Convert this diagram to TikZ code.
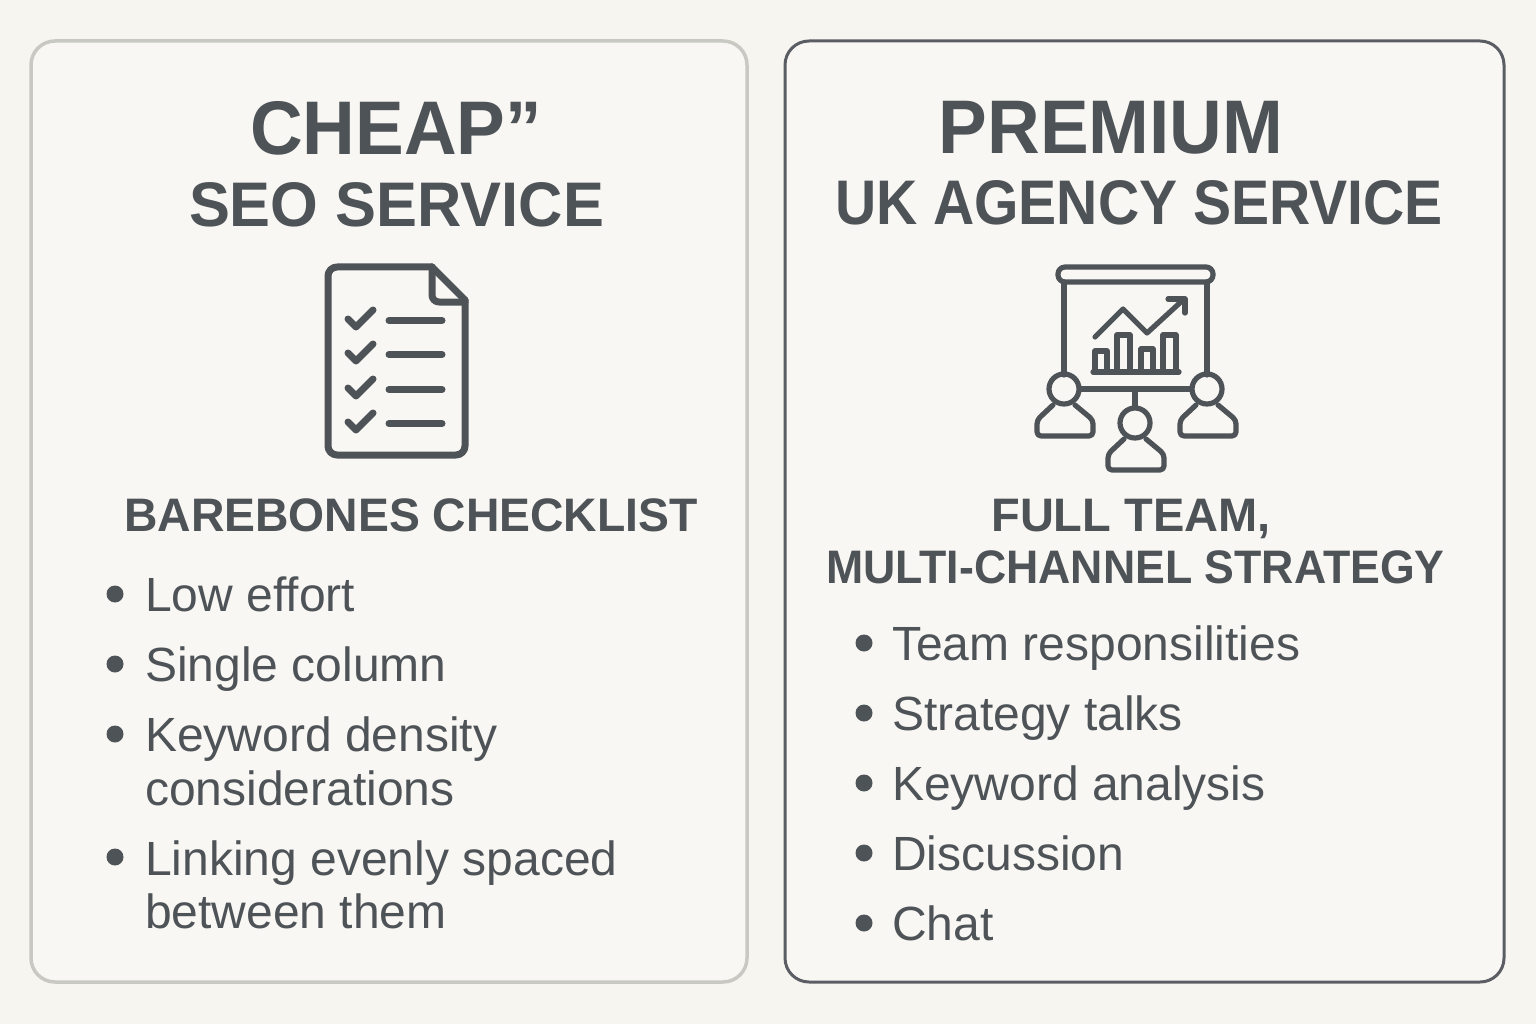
\documentclass[tikz,border=0pt]{standalone}
\usepackage{fontspec}
\setmainfont{Liberation Sans}
\definecolor{page bg}{HTML}{F7F5F0}
\definecolor{panel bg}{HTML}{F9F7F3}
\definecolor{ink}{HTML}{4E5358}
\definecolor{edge light}{HTML}{C9C9C4}
\definecolor{edge dark}{HTML}{5A5E64}
\tikzset{
  panel/.style={fill=panel bg, rounded corners=24pt},
  icon/.style={draw=ink, line width=7pt, line join=round, line cap=round},
  thinicon/.style={draw=ink, line width=5.2pt, line join=round, line cap=round}
  }
\tikzstyle{title} = [text=ink, anchor=base, inner sep=0pt, font=\fontsize{76}{76}\selectfont\bfseries]
\tikzstyle{subtitle} = [text=ink, anchor=base, inner sep=0pt, font=\fontsize{63}{63}\selectfont\bfseries]
\tikzstyle{heading} = [text=ink, anchor=base, inner sep=0pt, font=\fontsize{47}{47}\selectfont\bfseries]
\tikzstyle{item} = [text=ink, anchor=base west, inner sep=0pt, font=\fontsize{48}{48}\selectfont]
\tikzstyle{dot} = [circle, fill=ink, minimum size=17pt, inner sep=0pt]
\tikzstyle{head} = [circle, draw=ink, line width=5.2pt, minimum size=30pt, inner sep=0pt]
\begin{document}
\begin{tikzpicture}[x=1pt,y=-1pt]
    \useasboundingbox[fill=page bg] (0,0) rectangle (1536,1024);

    % The two panels
    \path[panel, draw=edge light, line width=3.5pt] (31,41) rectangle (747,982);
    \path[panel, draw=edge dark, line width=3pt] (785,41) rectangle (1504,982);

    % The titles
    \node[title] (cheap) at (396,155) {\scalebox{0.96}[1]{CHEAP”}};
    \node[subtitle] (seo) at (396.5,227) {\scalebox{0.974}[1]{SEO SERVICE}};
    \node[title] (premium) at (1111,154) {\scalebox{0.96}[1]{PREMIUM}};
    \node[subtitle] (agency) at (1139,225) {\scalebox{0.906}[1]{UK AGENCY SERVICE}};

    % The headings
    \foreach \pos/\name/\squeeze/\txt in {{(411,531)/bare/0.985/BAREBONES CHECKLIST}, {(1131,531)/team/1/FULL TEAM,}, {(1135.5,583)/multi/0.95/MULTI-CHANNEL STRATEGY}} {
      \node[heading] (\name) at \pos {\scalebox{\squeeze}[1]{\txt}};
    }

    % The left list
    \foreach \y/\name/\txt in {611/low/Low effort, 681/single/Single column, 751/density/Keyword density, 805/consider/considerations, 875/linking/Linking evenly spaced, 928/between/between them} {
      \node[item] (\name) at (145,\y) {\txt};
    }
    \foreach \y/\name in {594/a, 664/b, 734/c, 857/d} {
      \node[dot] (\name) at (115,\y) {};
    }

    % The right list
    \foreach \y/\name/\txt in {660/resp/Team responsilities, 730/talks/Strategy talks, 800/analysis/Keyword analysis, 870/discuss/Discussion, 940/chat/Chat} {
      \node[item] (\name) at (892,\y) {\txt};
    }
    \foreach \y/\name in {643/e, 713/f, 783/g, 853/h, 923/i} {
      \node[dot] (\name) at (864,\y) {};
    }

    % The checklist icon
    \draw[icon, rounded corners=9pt] (432,267) -- (328,267) -- (328,455) -- (465,455) -- (465,300);
    \draw[icon] (432,267) -- (465,300);
    \draw[icon, rounded corners=7pt] (432,267) -- (432,302) -- (465,302);
    \foreach \y in {320.5,354.5,389.5,423.5} {
      \draw[icon] (348,\y-1.5) -- (356,\y+6.5) -- (373,\y-10.5);
      \draw[icon] (389,\y) -- (442,\y);
    }

    % The board
    \draw[thinicon, rounded corners=7pt] (1058,267) rectangle (1213,282);
    \draw[thinicon] (1064,282) -- (1064,375) (1207,282) -- (1207,375);

    % The chart
    \draw[thinicon] (1095,337) -- (1123,309) -- (1147,333) -- (1183,300);
    \draw[thinicon] (1168,299) -- (1185,299) -- (1185,313);
    \draw[thinicon] (1093,372) -- (1179,372);
    \foreach \l/\r/\t in {1095/1107/351, 1117/1130/335, 1141/1153/349, 1163/1176/335} {
      \draw[thinicon] (\l,372) -- (\l,\t) -- (\r,\t) -- (\r,372);
    }

    % The three people
    \foreach \pos/\name in {{(1064,389)/lefthead}, {(1207,389)/righthead}, {(1135,423)/midhead}} {
      \node[head] (\name) at \pos {};
    }
    \foreach \dx/\dy in {0/0, 143/0, 71/34} {
      \draw[thinicon, rounded corners=4pt] (1053+\dx,405+\dy) -- (1037+\dx,420+\dy) -- (1037+\dx,436+\dy) -- (1093+\dx,436+\dy) -- (1093+\dx,420+\dy) -- (1075+\dx,405+\dy);
    }
    \draw[thinicon] (lefthead) -- (righthead);
    \draw[thinicon] (midhead) -- (midhead |- lefthead);
\end{tikzpicture}
\end{document}
